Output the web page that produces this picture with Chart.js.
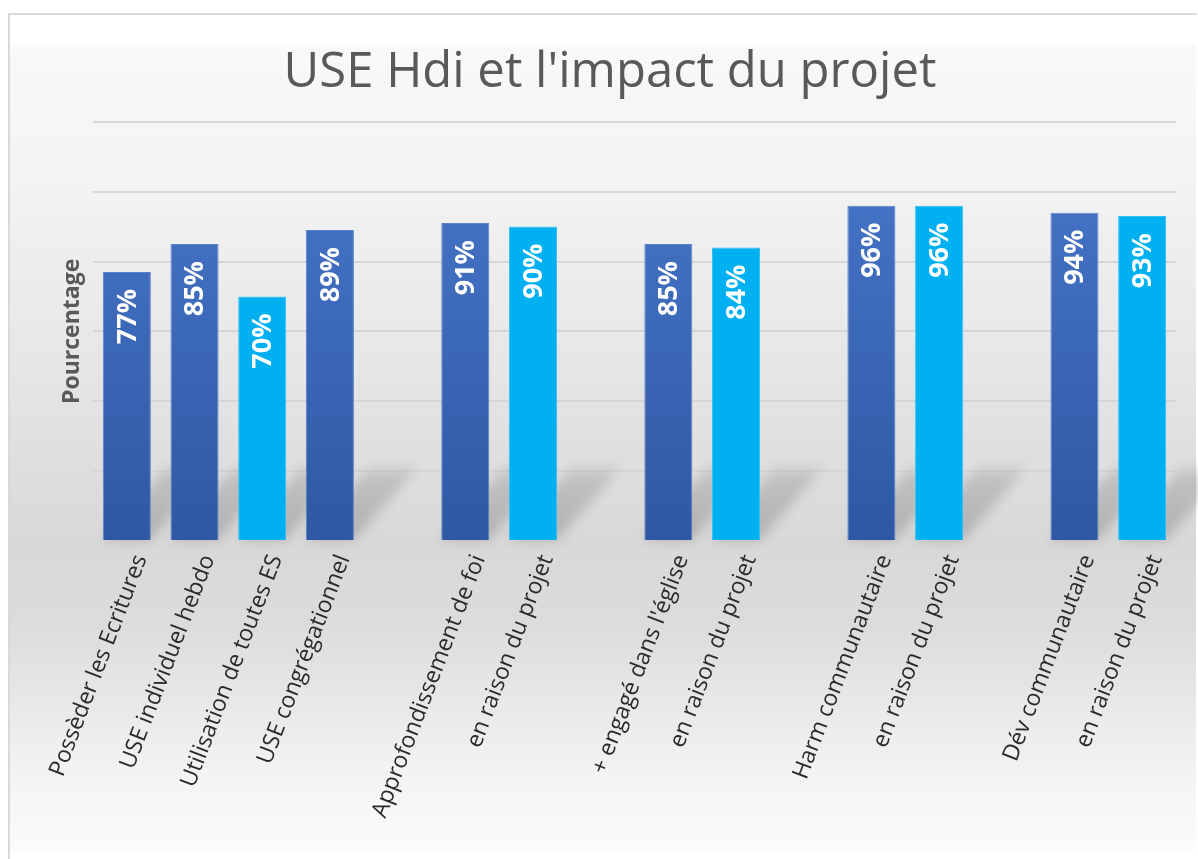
<!DOCTYPE html>
<html>
<head>
<meta charset="utf-8">
<title>USE Hdi et l'impact du projet</title>
<script src="https://cdn.jsdelivr.net/npm/chart.js@4.4.1/dist/chart.umd.min.js"></script>
<style>
  html, body { margin: 0; padding: 0; background: #ffffff; }
  #wrap { width: 1198px; height: 859px; position: relative; }
</style>
</head>
<body>
<div id="wrap"><canvas id="myBarChart" width="1198" height="859"></canvas></div>
<script>
// categories (empty strings are the gaps between groups)
var labelData = [
    "Possèder les Ecritures", "USE individuel hebdo", "Utilisation de toutes ES", "USE congrégationnel",
    "",
    "Approfondissement de foi", "en raison du projet",
    "",
    "+ engagé dans l'église", "en raison du projet",
    "",
    "Harm communautaire", "en raison du projet",
    "",
    "Dév communautaire", "en raison du projet"
];
var percentData = [77, 85, 70, 89, null, 91, 90, null, 85, 84, null, 96, 96, null, 94, 93];
// which bars are light blue ("en raison du projet" style)
var isLight = [false, false, true, false, false, false, true, false, false, true, false, false, true, false, false, true];

var chartTitle = "USE Hdi et l'impact du projet";
var yTitle = "Pourcentage";

// background of the whole picture + outer frame
var backgroundPlugin = {
    id: 'backgroundPlugin',
    beforeDraw: function(chart) {
        var ctx = chart.ctx;
        ctx.save();
        ctx.fillStyle = '#ffffff';
        ctx.fillRect(0, 0, chart.width, chart.height);
        var g = ctx.createLinearGradient(0, 45, 0, 850);
        g.addColorStop(0, '#f9f9f9');
        g.addColorStop(0.15, '#f4f4f4');
        g.addColorStop(0.4, '#e6e6e6');
        g.addColorStop(0.62, '#d8d8d8');
        g.addColorStop(0.72, '#dcdcdc');
        g.addColorStop(0.92, '#f5f5f5');
        g.addColorStop(1, '#fbfbfb');
        ctx.fillStyle = g;
        ctx.fillRect(9, 45, chart.width - 11, 805);
        ctx.strokeStyle = '#d9d9d9';
        ctx.lineWidth = 2;
        ctx.beginPath();
        ctx.moveTo(9, 860);
        ctx.lineTo(9, 14);
        ctx.lineTo(1197, 14);
        ctx.stroke();
        ctx.restore();
    }
};

// soft diagonal floor shadows behind the bars
var shadowPlugin = {
    id: 'shadowPlugin',
    beforeDatasetsDraw: function(chart) {
        var ctx = chart.ctx;
        var meta = chart.getDatasetMeta(0);
        ctx.save();
        ctx.filter = 'blur(6px)';
        meta.data.forEach(function(bar, i) {
            if (percentData[i] === null) return;
            var half = bar.width / 2;
            var base = bar.base;
            var g = ctx.createLinearGradient(0, base, 0, base - 78);
            g.addColorStop(0, 'rgba(0,0,0,0.18)');
            g.addColorStop(0.8, 'rgba(0,0,0,0.13)');
            g.addColorStop(1, 'rgba(0,0,0,0)');
            ctx.fillStyle = g;
            ctx.beginPath();
            ctx.moveTo(bar.x - half, base);
            ctx.lineTo(bar.x + half, base);
            ctx.lineTo(bar.x + half + 68, base - 78);
            ctx.lineTo(bar.x - half + 68, base - 78);
            ctx.closePath();
            ctx.fill();
        });
        ctx.restore();
    }
};

// white rotated value labels inside bars
var valueLabelPlugin = {
    id: 'valueLabelPlugin',
    afterDatasetsDraw: function(chart) {
        var ctx = chart.ctx;
        var meta = chart.getDatasetMeta(0);
        ctx.save();
        ctx.fillStyle = '#ffffff';
        ctx.font = 'bold 27px "Open Sans"';
        ctx.textAlign = 'right';
        ctx.textBaseline = 'middle';
        meta.data.forEach(function(bar, i) {
            if (percentData[i] === null) return;
            ctx.save();
            ctx.translate(bar.x, bar.y + 17);
            ctx.rotate(-Math.PI / 2);
            ctx.fillText(percentData[i] + '%', 0, 1);
            ctx.restore();
        });
        ctx.restore();
    }
};

function barColor(context) {
    var i = context.dataIndex;
    if (isLight[i]) return '#00b0f0';
    var area = context.chart.chartArea;
    if (!area) return '#3a67b8';
    var g = context.chart.ctx.createLinearGradient(0, area.top + 80, 0, area.bottom);
    g.addColorStop(0, '#4472c4');
    g.addColorStop(1, '#2e58a4');
    return g;
}

const ctx = document.getElementById('myBarChart');

new Chart(ctx, {
    type: 'bar',
    data: {
        labels: labelData,
        datasets: [{
            label: yTitle,
            data: percentData,
            backgroundColor: barColor,
            borderColor: function(context) {
                return isLight[context.dataIndex] ? '#33c0f3' : '#5a82c9';
            },
            borderWidth: 1,
            barPercentage: 0.71,
            categoryPercentage: 1
        }]
    },
    plugins: [backgroundPlugin, shadowPlugin, valueLabelPlugin],
    options: {
        responsive: false,
        animation: false,
        layout: { padding: { top: 0, left: 44, right: 22, bottom: 0 } },
        plugins: {
            legend: { display: false },
            tooltip: { enabled: false },
            title: {
                display: true,
                text: chartTitle,
                color: '#595959',
                font: { family: '"Open Sans"', size: 49, weight: 'normal', lineHeight: 1.2 },
                padding: { top: 44, bottom: 19 }
            }
        },
        scales: {
            x: {
                grid: { display: false },
                border: { display: false },
                ticks: {
                    color: '#2b2b2b',
                    font: { family: '"Open Sans"', size: 23, weight: 'normal' },
                    minRotation: 69,
                    maxRotation: 69,
                    autoSkip: false,
                    labelOffset: 14,
                    padding: 2
                },
                afterFit: function(scale) { scale.height = 318; }
            },
            y: {
                min: 0,
                max: 120,
                ticks: { display: false, stepSize: 20 },
                border: { display: false },
                grid: {
                    color: function(c) { return c.tick.value === 0 ? 'rgba(0,0,0,0)' : '#d6d6d6'; },
                    lineWidth: 2,
                    drawTicks: false
                },
                title: {
                    display: true,
                    text: yTitle,
                    color: '#595959',
                    font: { family: '"Open Sans"', size: 23, weight: 'bold', lineHeight: 1.2 },
                    padding: { top: 15, bottom: 0 }
                },
                afterFit: function(scale) { scale.width = 49; }
            }
        }
    }
});
</script>
</body>
</html>
